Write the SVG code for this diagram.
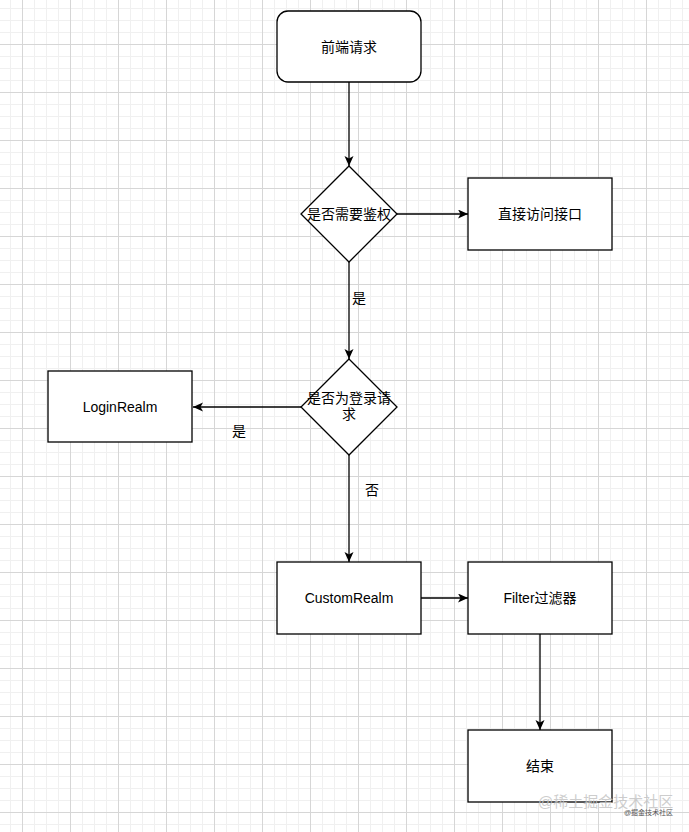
<svg xmlns="http://www.w3.org/2000/svg" width="689" height="832" viewBox="0 0 689 832">
<defs>
<pattern id="grid" patternUnits="userSpaceOnUse" x="22" y="44" width="48" height="48">
<rect x="12" y="0" width="1" height="48" fill="#f0f0f0"/>
<rect x="24" y="0" width="1" height="48" fill="#f0f0f0"/>
<rect x="36" y="0" width="1" height="48" fill="#f0f0f0"/>
<rect x="0" y="12" width="48" height="1" fill="#f0f0f0"/>
<rect x="0" y="24" width="48" height="1" fill="#f0f0f0"/>
<rect x="0" y="36" width="48" height="1" fill="#f0f0f0"/>
<rect x="0" y="0" width="1" height="48" fill="#d6d6d6"/>
<rect x="0" y="0" width="48" height="1" fill="#d6d6d6"/>
</pattern>
<marker id="arrow" markerUnits="userSpaceOnUse" markerWidth="12" markerHeight="10" refX="10" refY="4.5" orient="auto" viewBox="0 0 12 10">
<path d="M0,0 L10,4.5 L0,9 L2.5,4.5 Z" fill="#000"/>
</marker>
</defs>
<style>
.shape{fill:#fff;stroke:#000;stroke-width:1.3}
.edge{fill:none;stroke:#000;stroke-width:1.3;marker-end:url(#arrow)}
.t{font-family:"Liberation Sans","Noto Sans CJK SC",sans-serif;font-size:14px;fill:#000;text-anchor:middle;dominant-baseline:central}
.wm{font-family:"Liberation Sans","Noto Sans CJK SC",sans-serif}
</style>
<rect width="689" height="832" fill="#fff"/>
<rect width="689" height="832" fill="url(#grid)"/>

<g id="connectors">
<path class="edge" d="M349,82 L349,166"/>
<path class="edge" d="M397,214 L468,214"/>
<path class="edge" d="M349,262 L349,359"/>
<path class="edge" d="M301,407 L193,407"/>
<path class="edge" d="M349,455 L349,562"/>
<path class="edge" d="M421,598 L468,598"/>
<path class="edge" d="M540,634 L540,730"/>
<text class="t" x="359" y="298">是</text>
<text class="t" x="239" y="431">是</text>
<text class="t" x="372" y="490">否</text>
</g>

<g id="start">
<rect class="shape" x="277" y="11" width="144" height="71" rx="11"/>
<text class="t" x="349" y="46.5">前端请求</text>
</g>
<g id="needAuth">
<path class="shape" d="M349,166 L397,214 L349,262 L301,214 Z"/>
<text class="t" x="349" y="214">是否需要鉴权</text>
</g>
<g id="direct">
<rect class="shape" x="468" y="178" width="144" height="72"/>
<text class="t" x="540" y="214">直接访问接口</text>
</g>
<g id="isLogin">
<path class="shape" d="M349,359 L397,407 L349,455 L301,407 Z"/>
<text class="t" x="349" y="398">是否为登录请</text>
<text class="t" x="349" y="414">求</text>
</g>
<g id="loginRealm">
<rect class="shape" x="48" y="371" width="144" height="71"/>
<text class="t" x="120" y="406.5">LoginRealm</text>
</g>
<g id="customRealm">
<rect class="shape" x="277" y="562" width="144" height="72"/>
<text class="t" x="349" y="598">CustomRealm</text>
</g>
<g id="filter">
<rect class="shape" x="468" y="562" width="144" height="72"/>
<text class="t" x="540" y="598">Filter过滤器</text>
</g>
<g id="end">
<rect class="shape" x="468" y="730" width="144" height="72"/>
<text class="t" x="540" y="766">结束</text>
</g>

<g id="watermark">
<text class="wm" x="538" y="807" font-size="15" fill="#c4c4c4" fill-opacity="0.85">@稀土掘金技术社区</text>
<text class="wm" x="624" y="815" font-size="7" fill="#555">@掘金技术社区</text>
</g>
</svg>
